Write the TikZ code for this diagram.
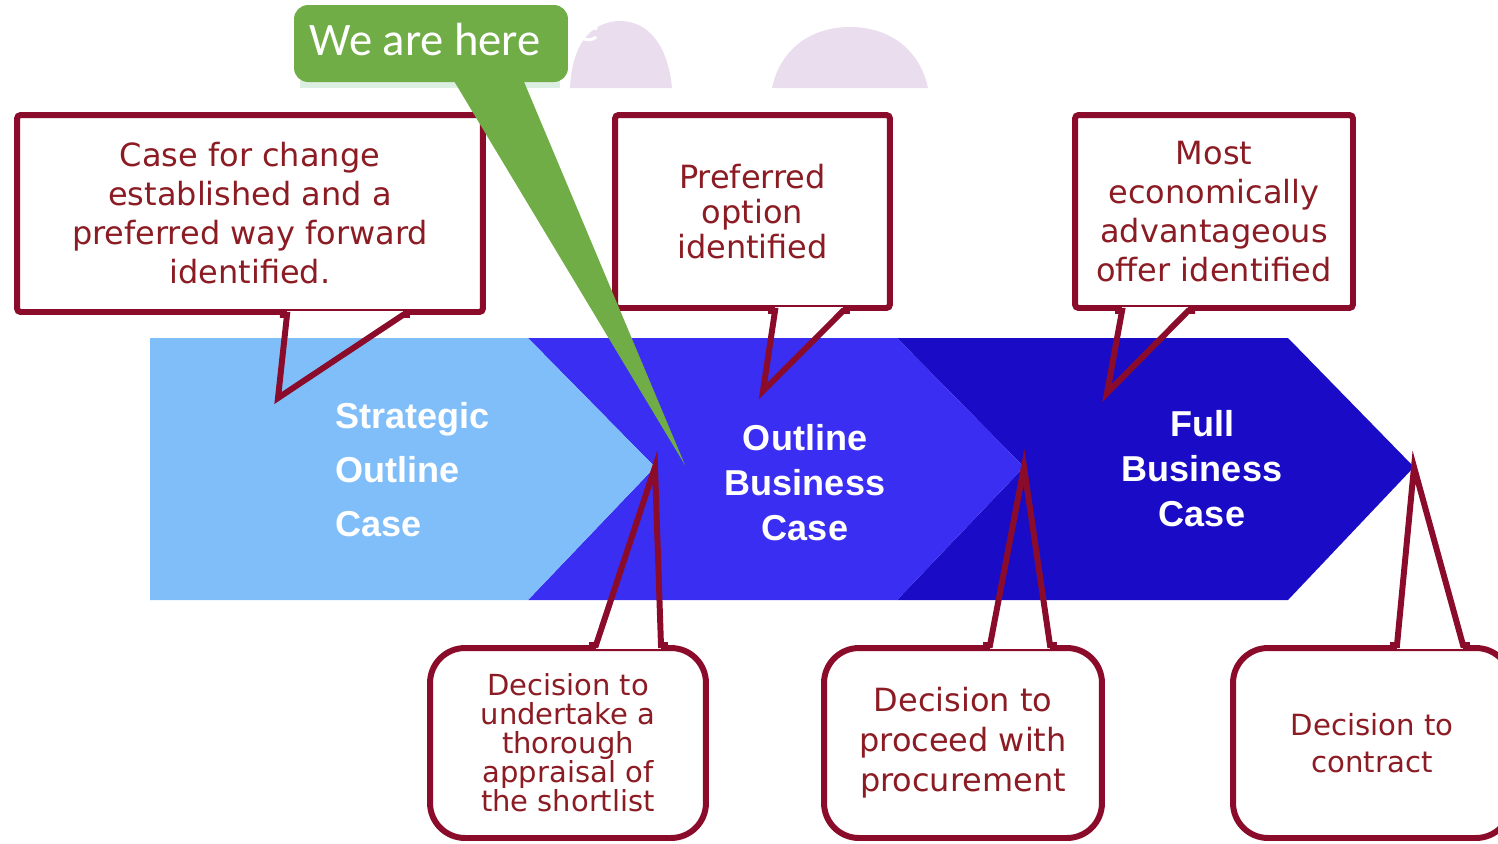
\documentclass[tikz,border=0pt]{standalone}
\usepackage{fontspec}
\newfontfamily\notefont{DejaVu Sans}
\newfontfamily\stagefont{Liberation Sans}
\newfontfamily\tagfont{Carlito}
\definecolor{socblue}{HTML}{80BEFA}
\definecolor{obcblue}{HTML}{3A2EF2}
\definecolor{fbcblue}{HTML}{1A0CC6}
\definecolor{noteline}{HTML}{8A0C2A}
\definecolor{notetext}{HTML}{8C1C24}
\definecolor{heregreen}{HTML}{70AD47}
\definecolor{blobpurple}{HTML}{EADDEE}
\definecolor{palegreen}{HTML}{DDEFE3}

\begin{document}
\begin{tikzpicture}[
  x=0.02cm, y=-0.02cm,
  note/.style={rectangle, draw=noteline, fill=white, line width=3.4pt, rounded corners=2pt,
               align=center, text=notetext, inner sep=0pt,
               font=\notefont\fontsize{18.2}{22.2}\selectfont},
  topnote/.style={note, minimum height=3.9cm},
  lownote/.style={note, rounded corners=0.7cm, minimum width=5.56cm, minimum height=3.8cm},
  tail/.style={draw=noteline, line width=3.4pt, line join=miter},
  erase/.style={draw=white, line width=4.6pt},
  stage/.style={text=white, align=center, inner sep=0pt,
                font=\stagefont\bfseries\fontsize{20.5}{25.6}\selectfont},
  here/.style={rectangle, rounded corners=8pt, fill=heregreen, text=white,
               minimum width=5.48cm, minimum height=1.54cm, text depth=0.15cm,
               font=\tagfont\fontsize{26.5}{30}\selectfont},
]
\useasboundingbox (0,0) rectangle (1498,843);

% slide background left behind the picture
\fill[blobpurple] (570,88) .. controls (572,40) and (595,21) .. (620,21)
  .. controls (648,21) and (668,45) .. (672,88) -- cycle;
\fill[blobpurple] (772,88) .. controls (780,50) and (810,27) .. (850,27)
  .. controls (890,27) and (920,50) .. (928,88) -- cycle;
\fill[palegreen] (300,80) rectangle (560,88);
\node[text=white, font=\tagfont\fontsize{26.5}{30}\selectfont] (etitle) at (588,30) {e};

% stages
\coordinate (tip1) at (655,467);
\coordinate (tip2) at (1024,467);
\coordinate (tip3) at (1414,467);
\fill[fbcblue] (897,338) -- (1288,338) -- (tip3) -- (1288,600) -- (897,600) -- (tip2) -- cycle;
\fill[obcblue] (528,338) -- (897,338) -- (tip2) -- (897,600) -- (528,600) -- (tip1) -- cycle;
\fill[socblue] (150,338) -- (528,338) -- (tip1) -- (528,600) -- (150,600) -- cycle;

\node[stage, anchor=west, align=left, font=\stagefont\bfseries\fontsize{20.5}{30.7}\selectfont]
  (soc) at (335,470) {Strategic\\Outline\\Case};
\node[stage] (obc) at (805,483) {Outline\\Business\\Case};
\node[stage] (fbc) at (1202,469) {Full\\Business\\Case};

% callouts above
\coordinate (t1) at (278,398);
\coordinate (t2) at (763,391);
\coordinate (t3) at (1107,393);
\node[topnote, minimum width=9.32cm, minimum height=3.94cm] (c1) at (250,213.5)
  {Case for change\\established and a\\preferred way forward\\identified.};
\node[topnote, minimum width=5.5cm, minimum height=3.86cm,
      font=\notefont\fontsize{18.2}{19.9}\selectfont] (c2) at (752.5,211.5)
  {Preferred\\option\\identified};
\node[topnote, minimum width=5.56cm, minimum height=3.86cm] (c3) at (1214,211.5)
  {Most\\economically\\advantageous\\offer identified};

\draw[erase] ([xshift=0.74cm]c1.south) -- ([xshift=3.06cm]c1.south);
\draw[tail] ([xshift=0.6cm]c1.south) -- ([xshift=0.74cm]c1.south) -- (t1)
  -- ([xshift=3.06cm]c1.south) -- ([xshift=3.2cm]c1.south);
\draw[erase] ([xshift=0.45cm]c2.south) -- ([xshift=1.81cm]c2.south);
\draw[tail] ([xshift=0.31cm]c2.south) -- ([xshift=0.45cm]c2.south) -- (t2)
  -- ([xshift=1.81cm]c2.south) -- ([xshift=1.95cm]c2.south);
\draw[erase] ([xshift=-1.84cm]c3.south) -- ([xshift=-0.52cm]c3.south);
\draw[tail] ([xshift=-1.98cm]c3.south) -- ([xshift=-1.84cm]c3.south) -- (t3)
  -- ([xshift=-0.52cm]c3.south) -- ([xshift=-0.38cm]c3.south);

% callouts below
\node[lownote, minimum width=5.52cm, font=\notefont\fontsize{16.5}{16.5}\selectfont]
  (d1) at (568,743) {Decision to\\undertake a\\thorough\\appraisal of\\the shortlist};
\node[lownote, font=\notefont\fontsize{18.2}{22.8}\selectfont]
  (d2) at (963,743) {Decision to\\proceed with\\procurement};
\node[lownote, font=\notefont\fontsize{16.6}{21}\selectfont]
  (d3) at (1372,743) {Decision to\\contract};

\draw[erase] ([xshift=0.56cm]d1.north) -- ([xshift=1.86cm]d1.north);
\draw[tail] ([xshift=0.42cm]d1.north) -- ([xshift=0.56cm]d1.north) -- (tip1)
  -- ([xshift=1.86cm]d1.north) -- ([xshift=2cm]d1.north);
\draw[erase] ([xshift=0.54cm]d2.north) -- ([xshift=1.74cm]d2.north);
\draw[tail] ([xshift=0.4cm]d2.north) -- ([xshift=0.54cm]d2.north) -- (tip2)
  -- ([xshift=1.74cm]d2.north) -- ([xshift=1.88cm]d2.north);
\draw[erase] ([xshift=0.5cm]d3.north) -- ([xshift=1.82cm]d3.north);
\draw[tail] ([xshift=0.36cm]d3.north) -- ([xshift=0.5cm]d3.north) -- (tip3)
  -- ([xshift=1.82cm]d3.north) -- ([xshift=1.96cm]d3.north);

% we are here
\coordinate (gtip) at (685,465);
\node[here] (here) at (431,43.5) {We are here\kern0.24cm};
\fill[heregreen] ([xshift=0.44cm,yshift=0.06cm]here.south) -- (gtip)
  -- ([xshift=1.84cm,yshift=0.06cm]here.south) -- cycle;

\end{tikzpicture}
\end{document}
